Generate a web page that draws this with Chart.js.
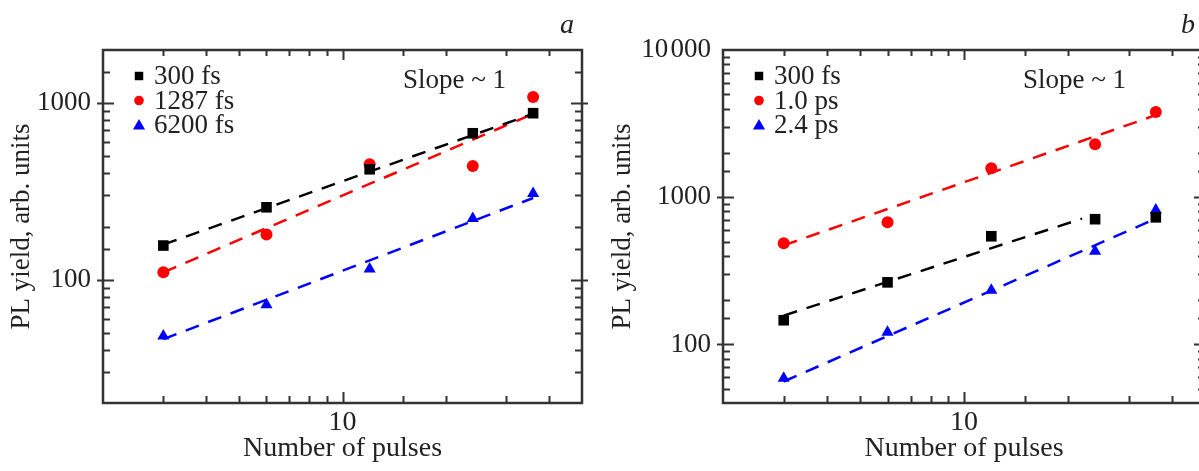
<!DOCTYPE html>
<html>
<head>
<meta charset="utf-8">
<script src="https://cdn.jsdelivr.net/npm/chart.js@4/dist/chart.umd.min.js"></script>
<style>
html, body { margin: 0; padding: 0; background: #fff; overflow: hidden; width: 1199px; height: 471px; }
#wrapA { position: absolute; left: 0; top: 0; width: 600px; height: 471px; }
#wrapB { position: absolute; left: 600px; top: 0; width: 620px; height: 471px; }
</style>
</head>
<body>
<div id="wrapA"><canvas id="chartA" width="600" height="471"></canvas></div>
<div id="wrapB"><canvas id="chartB" width="620" height="471"></canvas></div>
<script>
// number of pulses (same for both panels)
const pulses = [3, 6, 12, 24, 36];

// panel a
const labelsA = ['300 fs', '1287 fs', '6200 fs'];
const a300 = [156, 257, 422, 675, 877];
const a1287 = [110, 180, 450, 440, 1082];
const a6200 = [48, 72, 115, 222, 308];
const fitXA = [3, 36];
const fitA300 = [158, 870];
const fitA1287 = [110, 870];
const fitA6200 = [46, 290];
const yTicksA = [100, 1000];

// panel b
const labelsB = ['300 fs', '1.0 ps', '2.4 ps'];
const b300 = [146, 264, 543, 709, 730];
const b10 = [487, 676, 1575, 2290, 3790];
const b24 = [59, 121, 233, 430, 820];
const fitXB300 = [3, 22];
const fitXB = [3, 36];
const fitB300 = [157, 715];
const fitB10 = [471, 3610];
const fitB24 = [56, 715];
const yTicksB = [100, 1000, 10000];

const xTicks = [10];

const FONT = 'Liberation Serif';
const INK = '#222';
const colors = ['#000000', '#ff0000', '#0000ff'];
const styles = ['rect', 'circle', 'triangle'];
const radii = [7.5, 6, 7];

function pts(xs, ys) {
    return xs.map((x, i) => ({ x: x, y: ys[i] }));
}

function isDecade(v) {
    const l = Math.log10(v);
    return Math.abs(l - Math.round(l)) < 1e-6;
}

// frame, inward ticks, legend and notes
const decorate = {
    id: 'decorate',
    afterDraw(chart, args, opts) {
        const ctx = chart.ctx;
        const { left, right, top, bottom } = chart.chartArea;
        const xs = chart.scales.x, ys = chart.scales.y;
        ctx.save();
        ctx.strokeStyle = '#333';
        ctx.lineWidth = 2;
        ctx.beginPath();
        xs.ticks.forEach(t => {
            if (t.value <= xs.min || t.value >= xs.max) return;
            const px = Math.round(xs.getPixelForValue(t.value)) + 0.5;
            const len = isDecade(t.value) ? 11 : 7;
            ctx.moveTo(px, bottom); ctx.lineTo(px, bottom - len);
            ctx.moveTo(px, top); ctx.lineTo(px, top + len - 1);
        });
        ys.ticks.forEach(t => {
            if (t.value <= ys.min || t.value >= ys.max) return;
            const py = Math.round(ys.getPixelForValue(t.value)) + 0.5;
            const major = isDecade(t.value);
            const len = major ? 11 : 7;
            ctx.moveTo(left - (major ? 6 : 0), py); ctx.lineTo(left + len, py);
            ctx.moveTo(right + (major ? 6 : 0), py); ctx.lineTo(right - len, py);
        });
        ctx.stroke();
        ctx.lineWidth = 2.5;
        ctx.strokeRect(left, top, right - left, bottom - top);

        // legend
        ctx.font = '27px "' + FONT + '"';
        ctx.textBaseline = 'middle';
        ctx.textAlign = 'left';
        opts.labels.forEach((lab, i) => {
            const y = top + 26 + i * 24.5;
            ctx.fillStyle = colors[i];
            Chart.helpers.drawPoint(ctx, {
                pointStyle: styles[i],
                radius: [6, 4.8, 7][i],
                rotation: 0,
                borderWidth: 0
            }, left + 36, y + (i === 2 ? 1 : 0));
            ctx.fillStyle = INK;
            ctx.fillText(lab, left + 51, y + 1);
        });

        ctx.textBaseline = 'alphabetic';
        ctx.fillText('Slope ~ 1', left + 300, 88);

        ctx.font = 'italic 28px "' + FONT + '"';
        ctx.textAlign = 'center';
        ctx.fillText(opts.letter, opts.letterX, 33);
        ctx.restore();
    }
};

function makeChart(id, cfg) {
    const series = cfg.series.map((ys, i) => ({
        label: cfg.labels[i],
        data: pts(pulses, ys),
        showLine: false,
        pointStyle: styles[i],
        pointRadius: radii[i],
        pointBackgroundColor: colors[i],
        pointBorderWidth: 0,
        order: 0
    }));
    const fits = cfg.fits.map((f, i) => ({
        label: '',
        data: pts(f.x, f.y),
        showLine: true,
        borderColor: colors[i],
        borderWidth: 2.5,
        borderDash: [14, 10],
        pointRadius: 0,
        order: 1
    }));

    return new Chart(document.getElementById(id), {
        type: 'scatter',
        data: { datasets: series.concat(fits) },
        options: {
            responsive: false,
            animation: false,
            layout: { padding: { top: 50, right: cfg.padRight, bottom: 0, left: 0 } },
            plugins: {
                legend: { display: false },
                tooltip: { enabled: false },
                decorate: { labels: cfg.labels, letter: cfg.letter, letterX: cfg.letterX }
            },
            scales: {
                x: {
                    type: 'logarithmic',
                    min: 2,
                    max: 50,
                    grid: { display: false, drawTicks: false },
                    border: { display: false },
                    afterFit: s => { s.height = 68; },
                    ticks: {
                        autoSkip: false,
                        maxRotation: 0,
                        padding: 3,
                        color: INK,
                        font: { family: FONT, size: 28 },
                        callback: v => xTicks.includes(v) ? String(v) : ''
                    },
                    title: {
                        display: true,
                        text: 'Number of pulses',
                        color: INK,
                        font: { family: FONT, size: 28, lineHeight: 1.2 },
                        padding: { top: 0, bottom: 6 }
                    }
                },
                y: {
                    type: 'logarithmic',
                    min: cfg.yMin,
                    max: cfg.yMax,
                    grid: { display: false, drawTicks: false },
                    border: { display: false },
                    afterFit: s => { s.width = cfg.yWidth; },
                    ticks: {
                        autoSkip: false,
                        padding: 12,
                        color: INK,
                        font: { family: FONT, size: 27 },
                        callback: v => cfg.yTicks.includes(v) ? (v === 10000 ? '10\u200A000' : String(v)) : ''
                    },
                    title: {
                        display: true,
                        text: 'PL yield, arb. units',
                        color: INK,
                        font: { family: FONT, size: 27, lineHeight: 1.2 },
                        padding: { top: cfg.titlePad, bottom: 0 }
                    }
                }
            }
        },
        plugins: [decorate]
    });
}

makeChart('chartA', {
    labels: labelsA,
    series: [a300, a1287, a6200],
    fits: [
        { x: fitXA, y: fitA300 },
        { x: fitXA, y: fitA1287 },
        { x: fitXA, y: fitA6200 }
    ],
    yMin: 20, yMax: 2000, yTicks: yTicksA,
    yWidth: 103, padRight: 18, titlePad: 6,
    letter: 'a', letterX: 567
});

makeChart('chartB', {
    labels: labelsB,
    series: [b300, b10, b24],
    fits: [
        { x: fitXB300, y: fitB300 },
        { x: fitXB, y: fitB10 },
        { x: fitXB, y: fitB24 }
    ],
    yMin: 40, yMax: 10000, yTicks: yTicksB,
    yWidth: 123, padRight: 15, titlePad: 7,
    letter: 'b', letterX: 588
});
</script>
</body>
</html>
